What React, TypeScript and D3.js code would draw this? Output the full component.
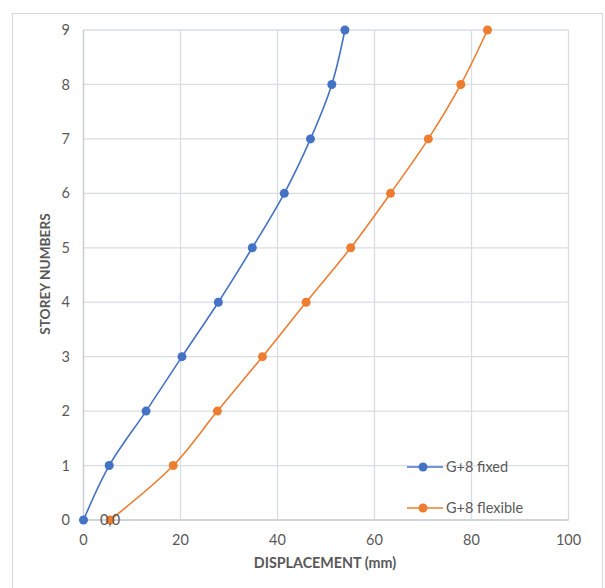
import React from "react";
import * as d3 from "d3";

const storeys = [0, 1, 2, 3, 4, 5, 6, 7, 8, 9];
const fixedDisp = [0, 5.3, 12.9, 20.3, 27.8, 34.8, 41.4, 46.8, 51.2, 53.9];
const flexibleDisp = [5.5, 18.5, 27.6, 36.9, 45.9, 55.1, 63.3, 71.1, 77.8, 83.3];
const xTicks = [0, 20, 40, 60, 80, 100];
const yTicks = [0, 1, 2, 3, 4, 5, 6, 7, 8, 9];
const seriesNames = ["G+8 fixed", "G+8 flexible"];
const seriesColors = ["#4472C4", "#ED7D31"];

const W = 605;
const H = 588;
const FONT = "Lato, 'Open Sans', sans-serif";
const TXT = "#595959";

export default function App() {
  const x = d3.scaleLinear().domain([0, 100]).range([83.5, 568.5]);
  const y = d3.scaleLinear().domain([0, 9]).range([520, 30]);
  const line = d3
    .line<[number, number]>()
    .x((d) => x(d[0]))
    .y((d) => y(d[1]))
    .curve(d3.curveCatmullRom.alpha(0.5));

  const series = [fixedDisp, flexibleDisp].map((vals) =>
    vals.map((v, i) => [v, storeys[i]] as [number, number])
  );

  const legendY = [467, 508];

  return (
    <svg
      width={W}
      height={H}
      style={{ position: "absolute", left: 0, top: 0, background: "#fff" }}
      fontFamily={FONT}
    >
      <rect x={12.5} y={13.5} width={590} height={590} fill="#fff" stroke="#d9d9d9" />
      {/* grid */}
      {xTicks.map((t) => (
        <line key={"gx" + t} x1={x(t)} x2={x(t)} y1={y(9)} y2={y(0)} stroke="#d9dde4" strokeWidth={1.3} />
      ))}
      {yTicks.map((t) => (
        <line key={"gy" + t} x1={x(0)} x2={x(100)} y1={y(t)} y2={y(t)} stroke="#d9dde4" strokeWidth={1.3} />
      ))}
      <line x1={x(0)} x2={x(0)} y1={y(9)} y2={y(0)} stroke="#c9ced8" strokeWidth={1.3} />
      <line x1={x(0)} x2={x(100)} y1={y(0)} y2={y(0)} stroke="#c9ced8" strokeWidth={1.3} />
      {/* tick labels */}
      {yTicks.map((t) => (
        <text key={"ty" + t} x={70} y={y(t)} dy="0.35em" textAnchor="end" fontSize={14.5} fill={TXT}>
          {t}
        </text>
      ))}
      {xTicks.map((t) => (
        <text key={"tx" + t} x={x(t)} y={540} dy="0.35em" textAnchor="middle" fontSize={14.5} fill={TXT}>
          {t}
        </text>
      ))}
      {/* titles */}
      <text x={325} y={563} dy="0.35em" textAnchor="middle" fontSize={14.3} fontWeight="bold" fill={TXT}>
        DISPLACEMENT (mm)
      </text>
      <text
        transform="translate(45,274) rotate(-90)"
        dy="0.35em"
        textAnchor="middle"
        fontSize={13.7}
        fontWeight="bold"
        fill={TXT}
      >
        STOREY NUMBERS
      </text>
      {/* series */}
      {series.map((pts, si) => (
        <g key={"s" + si}>
          <path d={line(pts) || ""} fill="none" stroke={seriesColors[si]} strokeWidth={1.6} />
          {pts.map((p, i) => (
            <circle key={i} cx={x(p[0])} cy={y(p[1])} r={4.5} fill={seriesColors[si]} />
          ))}
        </g>
      ))}
      {/* data label */}
      <text x={110} y={y(0)} dy="0.35em" textAnchor="middle" fontSize={14.5} fill={TXT}>
        0,0
      </text>
      {/* legend */}
      {seriesNames.map((n, i) => (
        <g key={"l" + i}>
          <line x1={407} x2={443} y1={legendY[i]} y2={legendY[i]} stroke={seriesColors[i]} strokeWidth={1.6} />
          <circle cx={423} cy={legendY[i]} r={4.5} fill={seriesColors[i]} />
          <text x={446} y={legendY[i]} dy="0.35em" fontSize={14.5} fill={TXT}>
            {n}
          </text>
        </g>
      ))}
    </svg>
  );
}
